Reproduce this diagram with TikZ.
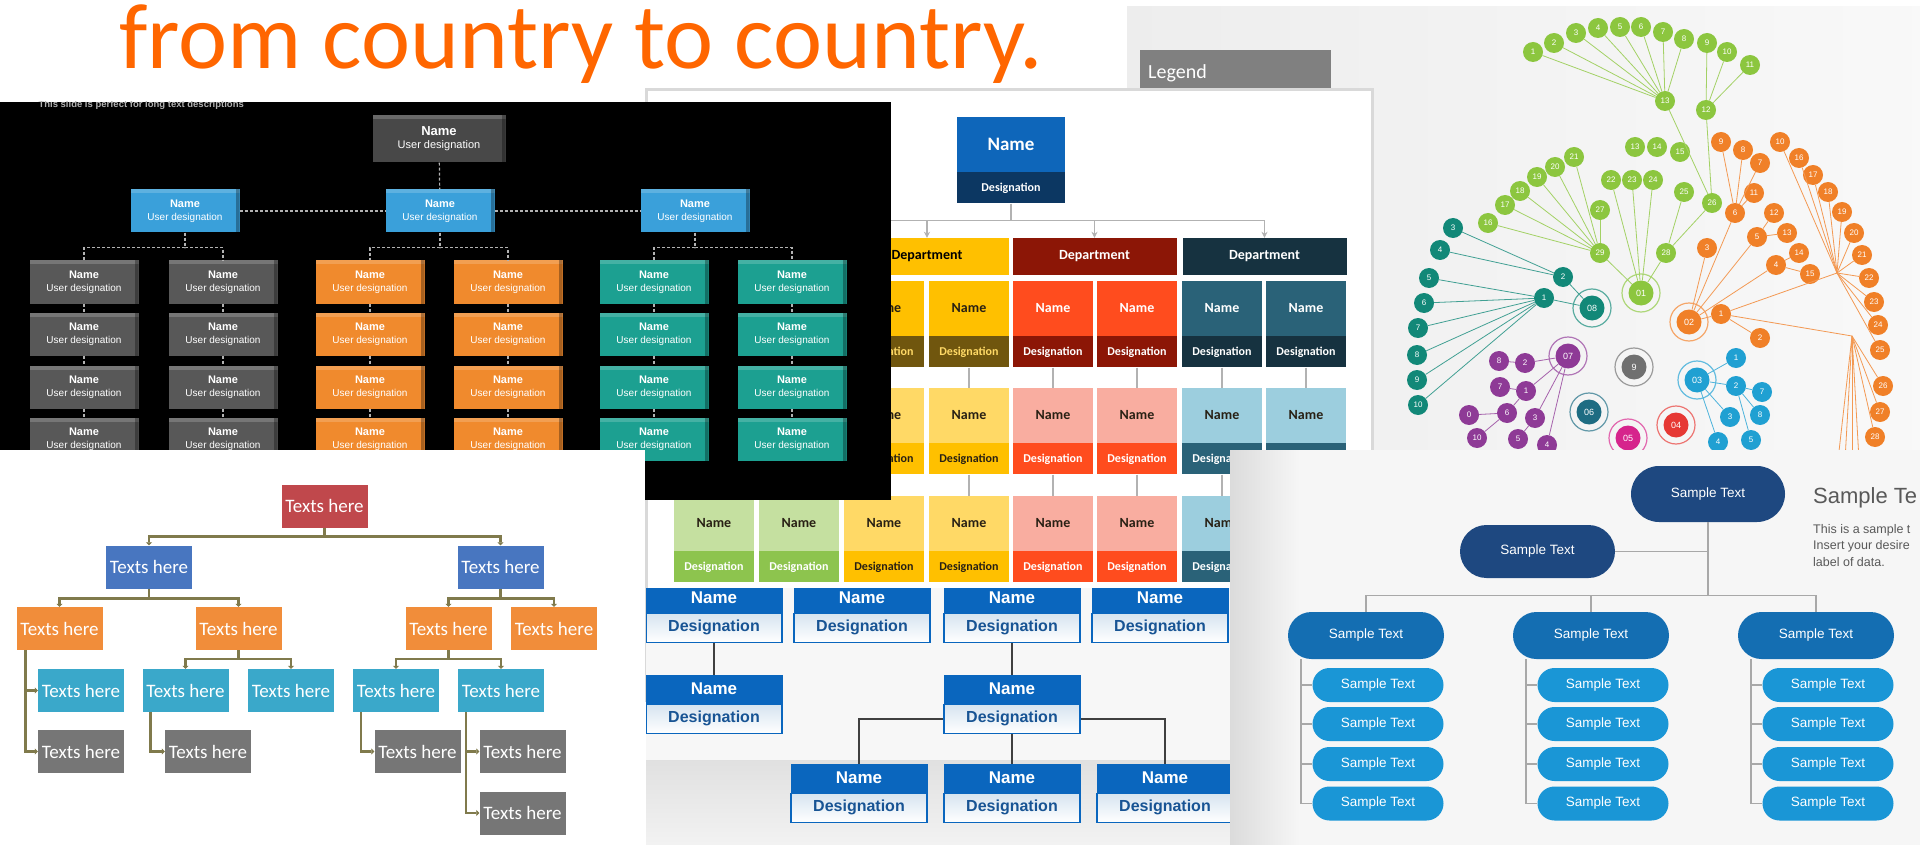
\documentclass[tikz,border=0pt]{standalone}
\usepackage{fontspec}
\setmainfont{Carlito}
\newfontfamily\arialfont{Liberation Sans}
\usetikzlibrary{positioning,arrows.meta,shapes.misc,calc}

\definecolor{titleorange}{RGB}{255,102,0}
% black chart
\definecolor{atopgray}{RGB}{72,72,72}
\definecolor{agray}{RGB}{88,88,88}
\definecolor{ablue}{RGB}{58,160,218}
\definecolor{aorange}{RGB}{240,138,45}
\definecolor{ateal}{RGB}{28,160,145}
% department chart
\definecolor{bblue}{RGB}{14,102,186}
\definecolor{bnavy}{RGB}{12,55,98}
\definecolor{byellow}{RGB}{255,192,0}
\definecolor{byellowl}{RGB}{255,217,102}
\definecolor{bolive}{RGB}{112,86,14}
\definecolor{bred}{RGB}{255,76,30}
\definecolor{bdarkred}{RGB}{140,22,6}
\definecolor{bsalmon}{RGB}{249,173,160}
\definecolor{bteal}{RGB}{42,98,120}
\definecolor{bnavyd}{RGB}{22,50,64}
\definecolor{blightblue}{RGB}{156,206,222}
\definecolor{bgreen}{RGB}{141,196,78}
\definecolor{bgreenl}{RGB}{197,224,160}
\definecolor{bdark}{RGB}{40,32,20}
\definecolor{blinecol}{RGB}{178,178,178}
% blue name boxes
\definecolor{dblue}{RGB}{10,102,190}
\definecolor{dtext}{RGB}{24,84,148}
\definecolor{dlight}{RGB}{214,228,240}
% texts here tree
\definecolor{cred}{RGB}{192,72,76}
\definecolor{cblue}{RGB}{72,118,192}
\definecolor{corange}{RGB}{241,141,58}
\definecolor{cteal}{RGB}{58,168,202}
\definecolor{cgray}{RGB}{118,118,118}
\definecolor{clinecol}{RGB}{128,122,76}
% network
\definecolor{egreen}{RGB}{140,198,63}
\definecolor{eorange}{RGB}{240,128,40}
\definecolor{eteal}{RGB}{18,136,120}
\definecolor{epurple}{RGB}{142,58,150}
\definecolor{ecyan}{RGB}{32,160,210}
\definecolor{edteal}{RGB}{30,108,130}
\definecolor{emagenta}{RGB}{214,36,140}
\definecolor{ered}{RGB}{230,56,52}
\definecolor{egray}{RGB}{112,112,112}
% sample text chart
\definecolor{fnavy}{RGB}{30,72,128}
\definecolor{fmid}{RGB}{20,110,178}
\definecolor{fbright}{RGB}{26,150,214}
\definecolor{flinecol}{RGB}{168,168,168}

\newcommand{\pxfont}[2]{\fontsize{#1}{#2}\selectfont}
\newcommand{\anametext}{\textbf{Name}\\{\pxfont{10}{12}User designation}}

\begin{document}
\begin{tikzpicture}[x=1pt, y=-1pt,
    abox/.style={rectangle, fill=#1, minimum width=109, minimum height=43, inner sep=0pt, text=white, align=center,
      font=\arialfont\pxfont{11}{13},
      path picture={
        \fill[white, opacity=.18] (path picture bounding box.north west) rectangle ([yshift=-4pt]path picture bounding box.north east);
        \fill[black, opacity=.3] ([xshift=-4pt]path picture bounding box.north east) rectangle (path picture bounding box.south east);
      }},
    adash/.style={draw=white!70!black, densely dashed, line width=1.2pt},
    bcell/.style={rectangle, minimum width=80, minimum height=55, inner sep=0pt, font=\bfseries\pxfont{14}{16}},
    bdes/.style={rectangle, minimum width=80, minimum height=31, inner sep=0pt, font=\bfseries\pxfont{12}{14}},
    bdept/.style={rectangle, fill=#1, text=white, minimum width=164, minimum height=37, inner sep=0pt, font=\bfseries\pxfont{14}{16}},
    bconn/.style={draw=blinecol, line width=1.5pt},
    dname/.style={rectangle, fill=dblue, draw=dblue, line width=1pt, text=white, minimum width=136, minimum height=28, inner sep=0pt, font=\arialfont\bfseries\pxfont{17}{19}},
    ddes/.style={rectangle, top color=dlight, bottom color=white, draw=dblue, line width=1.5pt, text=dtext, minimum width=136, minimum height=29, inner sep=0pt, font=\arialfont\bfseries\pxfont{16}{18}},
    dconn/.style={draw=black!75, line width=2.5pt},
    cbox/.style={rectangle, fill=#1, text=white, minimum width=86, minimum height=43, inner sep=0pt, font=\pxfont{19}{21}},
    ctree/.style={draw=clinecol, line width=2.5pt, -{Triangle[length=3pt, width=6pt]}},
    enode/.style={circle, fill=#1, minimum size=20, inner sep=0pt, text=white, font=\arialfont\pxfont{8}{8}},
    ehub/.style={circle, fill=#1, minimum size=25, inner sep=0pt, text=white, font=\arialfont\pxfont{9}{9}},
    econn/.style={draw=#1!80, line width=0.8pt},
    fpill/.style={rounded rectangle, fill=#1, text=white, inner sep=0pt, font=\arialfont\pxfont{13.5}{15}},
    fconn/.style={draw=flinecol, line width=1.2pt}
  ]
  \useasboundingbox (0,0) rectangle (1920,845);

  % Title
  \node[anchor=base west, inner sep=0pt, text=titleorange, font=\pxfont{93}{98}] (title) at (119,69) {from country to country.};

  % Radial network (back right)
  \shade[left color=gray!14, right color=gray!5] (1127,7) rectangle (1920,460);
  \begin{scope}
    \clip (1127,7) rectangle (1920,460);
    \node[rectangle, fill=gray, text=white, anchor=north west, minimum width=190, minimum height=46, text width=175, align=left, inner xsep=8pt, font=\pxfont{20}{22}] (elegend) at (1140,50) {Legend};
    % hubs with rings
    \foreach \n/\x/\y/\col/\lab in {e01/1641/293/egreen/01, e02/1689/322/eorange/02, e03/1697/380/ecyan/03, e04/1676/425/ered/04, e05/1628/438/emagenta/05, e06/1589/412/edteal/06, e07/1568/356/epurple/07, e08/1592/308/eteal/08, e09/1634/367/egray/9} {
      \node[ehub=\col] (\n) at (\x,\y) {\lab};
      \draw[\col!70, line width=1.2pt] (\n.center) circle (19);
    }
    % green groups
    \foreach \n/\x/\y/\lab in {eg1/1533/52/1, eg2/1554/43/2, eg3/1576/33/3, eg4/1598/28/4, eg5/1620/27/5, eg6/1641/27/6, eg7/1663/32/7, eg8/1684/39/8, eg9/1707/43/9, eg10/1727/52/10, eg11/1750/65/11, eg12/1706/110/12, eg13/1665/101/13,
        eh13/1635/147/13, eh14/1657/147/14, eh15/1680/152/15, eh16/1488/223/16, eh17/1505/205/17, eh18/1520/191/18, eh19/1537/177/19, eh20/1555/167/20, eh21/1574/157/21, eh22/1611/180/22, eh23/1632/180/23, eh24/1653/180/24, eh25/1684/192/25, eh26/1712/203/26, eh27/1600/210/27, eh28/1666/253/28, eh29/1600/253/29}
      \node[enode=egreen] (\n) at (\x,\y) {\lab};
    % orange group
    \foreach \n/\x/\y/\lab in {eo1/1721/314/1, eo2/1760/338/2, eo3/1757/237/5, eo4/1776/265/4, eo5/1707/248/3, eo6/1735/213/6, eo7/1760/163/7, eo8/1743/150/8, eo9/1721/142/9, eo10/1780/142/10, eo11/1754/193/11, eo12/1774/213/12, eo13/1787/233/13, eo14/1799/253/14, eo15/1810/274/15,
        eo16/1799/158/16, eo17/1813/175/17, eo18/1828/192/18, eo19/1842/212/19, eo20/1854/233/20, eo21/1862/255/21, eo22/1869/278/22, eo23/1874/302/23, eo24/1878/325/24, eo25/1880/350/25, eo26/1883/386/26, eo27/1880/412/27, eo28/1875/437/28}
      \node[enode=eorange] (\n) at (\x,\y) {\lab};
    \coordinate (eoj1) at (1837,273);
    \coordinate (eoj2) at (1852,336);
    \foreach \n/\x in {1/1838, 2/1845, 3/1852, 4/1859}
      \coordinate (eod\n) at (\x,460);
    % teal group
    \foreach \n/\x/\y/\lab in {et1/1544/298/1, et2/1563/277/2, et3/1453/228/3, et4/1440/250/4, et5/1429/278/5, et6/1424/303/6, et7/1418/328/7, et8/1417/355/8, et9/1417/380/9, et10/1418/405/10}
      \node[enode=eteal] (\n) at (\x,\y) {\lab};
    % purple group
    \foreach \n/\x/\y/\lab in {ep8/1499/361/8, ep2/1525/363/2, ep7/1500/387/7, ep1/1526/391/1, ep0/1469/415/0, ep6/1507/413/6, ep3/1535/418/3, ep10/1477/438/10, ep5/1518/439/5, ep4/1547/445/4}
      \node[enode=epurple] (\n) at (\x,\y) {\lab};
    % cyan group
    \foreach \n/\x/\y/\lab in {ec1/1736/358/1, ec2/1736/386/2, ec7/1762/392/7, ec3/1730/417/3, ec8/1760/415/8, ec4/1718/442/4, ec5/1751/440/5}
      \node[enode=ecyan] (\n) at (\x,\y) {\lab};
    % links
    \foreach \ea/\eb in {eg1/eg13, eg2/eg13, eg3/eg13, eg4/eg13, eg5/eg13, eg6/eg13, eg7/eg13, eg8/eg13, eg9/eg12, eg10/eg12, eg11/eg12, eg13/eh26, eg12/eh26,
        eh16/eh29, eh17/eh29, eh18/eh29, eh19/eh29, eh20/eh29, eh21/eh29, eh27/eh29, eh29/e01, eh22/e01, eh23/e01, eh24/e01, eh25/eh28, eh26/eh28, eh28/e01}
      \draw[econn=egreen] (\ea) -- (\eb);
    \foreach \ea/\eb in {e02/eo5, e02/eo6, e02/eo3, e02/eo4, e02/eo1, eo6/eo7, eo6/eo8, eo6/eo9, eo6/eo11, eo3/eo12, eo3/eo13, eo4/eo14, eo4/eo15, eo1/eo2, eo1/eoj1, eo1/eoj2,
        eoj1/eo10, eoj1/eo16, eoj1/eo17, eoj1/eo18, eoj1/eo19, eoj1/eo20, eoj1/eo21, eoj1/eo22, eoj1/eo23, eoj1/eo24, eoj1/eo25, eoj2/eo26, eoj2/eo27, eoj2/eo28,
        eoj2/eod1, eoj2/eod2, eoj2/eod3, eoj2/eod4}
      \draw[econn=eorange] (\ea) -- (\eb);
    \foreach \ea/\eb in {et3/et2, et4/et2, et5/et1, et6/et1, et7/et1, et8/et1, et9/et1, et10/et1, et2/e08, et1/e08}
      \draw[econn=eteal] (\ea) -- (\eb);
    \foreach \ea/\eb in {ep8/ep2, ep2/e07, ep7/ep1, ep1/e07, ep0/ep6, ep6/ep1, ep10/ep6, ep5/ep3, ep3/e07, ep4/e07}
      \draw[econn=epurple] (\ea) -- (\eb);
    \foreach \ea/\eb in {e03/ec1, e03/ec2, e03/ec3, e03/ec4, ec2/ec7, ec2/ec8, ec2/ec5}
      \draw[econn=ecyan] (\ea) -- (\eb);
  \end{scope}

  % Department chart (back middle)
  \fill[white, draw=gray!30, line width=3pt] (646,90) rectangle (1372,700);
  \begin{scope}
    \clip (646,90) rectangle (1372,700);
    \node[rectangle, fill=bblue, text=white, minimum width=108, minimum height=55, inner sep=0pt, font=\bfseries\pxfont{19}{21}] (bname) at (1011,144.5) {Name};
    \node[rectangle, fill=bnavy, text=white, minimum width=108, minimum height=31, inner sep=0pt, font=\bfseries\pxfont{12}{14}, below=0pt of bname] (bdesig) {Designation};
    \node[bdept=byellow, text=black] (bdep1) at (927,256.5) {Department};
    \node[bdept=bdarkred] (bdep2) at (1094.5,256.5) {Department};
    \node[bdept=bnavyd] (bdep3) at (1264.5,256.5) {Department};
    \draw[bconn] (bdesig.south) -- ++(0,17) coordinate (bj);
    \draw[bconn] (bj) ++(-254,0) -- (bj -| bdep3.north);
    \foreach \dep in {1,2,3}
      \draw[bconn, -{Stealth[length=6pt, width=6pt]}] (bj -| bdep\dep.north) -- (bdep\dep.north);
    % first row
    \foreach \cl/\x/\nf/\nt/\df/\dt in {ya/884/byellow/bdark/bolive/byellowl, yb/969/byellow/bdark/bolive/byellowl, ra/1053/bred/white/bdarkred/white, rb/1137/bred/white/bdarkred/white, na/1222/bteal/white/bnavyd/white, nb/1306/bteal/white/bnavyd/white} {
      \node[bcell, fill=\nf, text=\nt] (b\cl1n) at (\x,308.5) {Name};
      \node[bdes, fill=\df, text=\dt, below=0pt of b\cl1n] (b\cl1d) {Designation};
    }
    % second row
    \foreach \cl/\x/\nf/\nt/\df/\dt in {ya/884/byellowl/bdark/byellow/bdark, yb/969/byellowl/bdark/byellow/bdark, ra/1053/bsalmon/bdark/bred/white, rb/1137/bsalmon/bdark/bred/white, na/1222/blightblue/bdark/bteal/white, nb/1306/blightblue/bdark/bteal/white} {
      \node[bcell, fill=\nf, text=\nt] (b\cl2n) at (\x,415.5) {Name};
      \node[bdes, fill=\df, text=\dt, below=0pt of b\cl2n] (b\cl2d) {Designation};
    }
    % third row
    \foreach \cl/\x/\nf/\nt/\df/\dt in {ga/714/bgreenl/bdark/bgreen/white, gb/799/bgreenl/bdark/bgreen/white, ya/884/byellowl/bdark/byellow/bdark, yb/969/byellowl/bdark/byellow/bdark, ra/1053/bsalmon/bdark/bred/white, rb/1137/bsalmon/bdark/bred/white, na/1222/blightblue/bdark/bteal/white} {
      \node[bcell, fill=\nf, text=\nt] (b\cl3n) at (\x,523.5) {Name};
      \node[bdes, fill=\df, text=\dt, below=0pt of b\cl3n] (b\cl3d) {Designation};
    }
    \foreach \cl in {ya,yb,ra,rb,na,nb} \draw[bconn] (b\cl1d) -- (b\cl2n);
    \foreach \cl in {ya,yb,ra,rb,na} \draw[bconn] (b\cl2d) -- (b\cl3n);
  \end{scope}

  % Blue name boxes (bottom middle)
  \fill[gray!6] (646,588) rectangle (1240,845);
  \shade[top color=gray!24, bottom color=gray!10] (646,760) rectangle (1240,845);
  \begin{scope}
    \clip (646,588) rectangle (1240,845);
    \foreach \n/\x/\y in {1/714/598, 2/862/598, 3/1012/598, 4/1160/598, 5/714/689, 6/1012/689, 7/859/778, 8/1012/778, 9/1165/778} {
      \node[dname] (dn\n) at (\x,\y) {Name};
      \node[ddes, below=0pt of dn\n] (dd\n) {Designation};
    }
    \draw[dconn] (dd1) -- (dn5);
    \draw[dconn] (dd3) -- (dn6);
    \draw[dconn] (dd6.west) -| (dn7.north);
    \draw[dconn] (dd6.east) -| (dn9.north);
    \draw[dconn] (dd6) -- (dn8);
  \end{scope}

  % Black chart (front left)
  \fill[black] (0,102) rectangle (891,500);
  \begin{scope}
    \clip (0,102) rectangle (891,500);
    \node[anchor=west, text=gray!60, font=\arialfont\bfseries\pxfont{9.5}{10}] (adesc) at (35,105) {This slide is perfect for long text descriptions};
    \node[abox=atopgray, minimum width=133, minimum height=47] (atop) at (439,139) {\pxfont{13}{15}\textbf{Name}\\{\pxfont{11}{13}User designation}};
    \node[abox=ablue] (ab1) at (185,211) {\anametext};
    \node[abox=ablue] (ab2) at (440,211) {\anametext};
    \node[abox=ablue] (ab3) at (695,211) {\anametext};
    \draw[adash] (atop) -- (ab2);
    \draw[adash] (ab1) -- (ab2);
    \draw[adash] (ab2) -- (ab3);
    \foreach \grp/\col/\xl/\xr in {1/agray/84/223, 2/aorange/370/508, 3/ateal/654/792} {
      \foreach \row/\y in {1/282, 2/334, 3/387, 4/439} {
        \node[abox=\col] (al\grp\row) at (\xl,\y) {\anametext};
        \node[abox=\col] (ar\grp\row) at (\xr,\y) {\anametext};
      }
      \draw[adash] (ab\grp.south) -- ++(0,15) -| (al\grp1.north);
      \draw[adash] (ab\grp.south) -- ++(0,15) -| (ar\grp1.north);
      \foreach \row/\nxt in {1/2, 2/3, 3/4} {
        \draw[adash] (al\grp\row) -- (al\grp\nxt);
        \draw[adash] (ar\grp\row) -- (ar\grp\nxt);
      }
    }
  \end{scope}

  % Texts here tree (front bottom left)
  \fill[white] (0,450) rectangle (645,845);
  \node[cbox=cred] (ctop) at (324.5,506) {Texts here};
  \node[cbox=cblue] (cb1) at (149,567) {Texts here};
  \node[cbox=cblue] (cb2) at (500.5,567) {Texts here};
  \foreach \n/\x in {1/59.5, 2/238.5, 3/448.5, 4/554} \node[cbox=corange] (co\n) at (\x,628.5) {Texts here};
  \foreach \n/\x in {1/81, 2/185.5, 3/291, 4/396, 5/501} \node[cbox=cteal] (ct\n) at (\x,690.5) {Texts here};
  \foreach \n/\x/\y in {1/81/751.5, 2/208/751.5, 3/417.5/751.5, 4/522.5/751.5, 5/522.5/813} \node[cbox=cgray] (cg\n) at (\x,\y) {Texts here};
  \draw[ctree] (ctop.south) -- ++(0,9) coordinate (cj1) -| (cb1.north);
  \draw[ctree] (cj1) -| (cb2.north);
  \draw[ctree] (cb1.south) -- ++(0,10) coordinate (cj2) -| (co1.north);
  \draw[ctree] (cj2) -| (co2.north);
  \draw[ctree] (cb2.south) -- ++(0,10) coordinate (cj3) -| (co3.north);
  \draw[ctree] (cj3) -| (co4.north);
  \draw[ctree] (co2.south) -- ++(0,9) coordinate (cj4) -| (ct2.north);
  \draw[ctree] (cj4) -| (ct3.north);
  \draw[ctree] (co3.south) -- ++(0,9) coordinate (cj5) -| (ct4.north);
  \draw[ctree] (cj5) -| (ct5.north);
  \draw[ctree] ([xshift=9pt]co1.south west) |- (ct1.west);
  \draw[ctree] ([xshift=9pt]co1.south west) |- (cg1.west);
  \draw[ctree] ([xshift=8pt]ct2.south west) |- (cg2.west);
  \draw[ctree] ([xshift=8pt]ct4.south west) |- (cg3.west);
  \draw[ctree] ([xshift=8pt]ct5.south west) |- (cg4.west);
  \draw[ctree] ([xshift=8pt]ct5.south west) |- (cg5.west);

  % Sample text chart (front bottom right)
  \fill[gray!7] (1230,450) rectangle (1920,845);
  \shade[left color=gray!28, right color=gray!7] (1230,450) rectangle (1300,845);
  \begin{scope}
    \clip (1230,450) rectangle (1920,845);
    \node[fpill=fnavy, minimum width=154, minimum height=56] (ftop) at (1708,494) {Sample Text};
    \node[fpill=fnavy, minimum width=155, minimum height=53] (fsec) at (1537.5,551.5) {Sample Text};
    \draw[fconn] (ftop.south) -- ++(0,73) coordinate (fj);
    \draw[fconn] (fsec.east) -- (fsec.east -| fj);
    \foreach \cl/\x in {a/1366, b/1591, c/1816} {
      \node[fpill=fmid, minimum width=156, minimum height=47] (f2\cl) at (\x,635.5) {Sample Text};
      \draw[fconn] (f2\cl.north |- fj) -- (f2\cl.north);
      \foreach \row/\y in {1/685, 2/724, 3/764, 4/803.5} {
        \node[fpill=fbright, minimum width=131, minimum height=34] (f3\cl\row) at (\x+12,\y) {Sample Text};
        \draw[fconn] ([xshift=-65pt]f2\cl.south) |- (f3\cl\row.west);
      }
    }
    \draw[fconn] (f2a.north |- fj) -- (f2c.north |- fj);
    \node[anchor=base west, inner sep=0pt, text=black!65, font=\arialfont\pxfont{22}{24}] (fhead) at (1813,503) {Sample Te};
    \node[anchor=north west, align=left, inner sep=0pt, text=black!65, font=\arialfont\pxfont{12.5}{16.5}] (fnote) at (1813,524) {This is a sample t\\Insert your desire\\label of data.};
  \end{scope}
\end{tikzpicture}
\end{document}
